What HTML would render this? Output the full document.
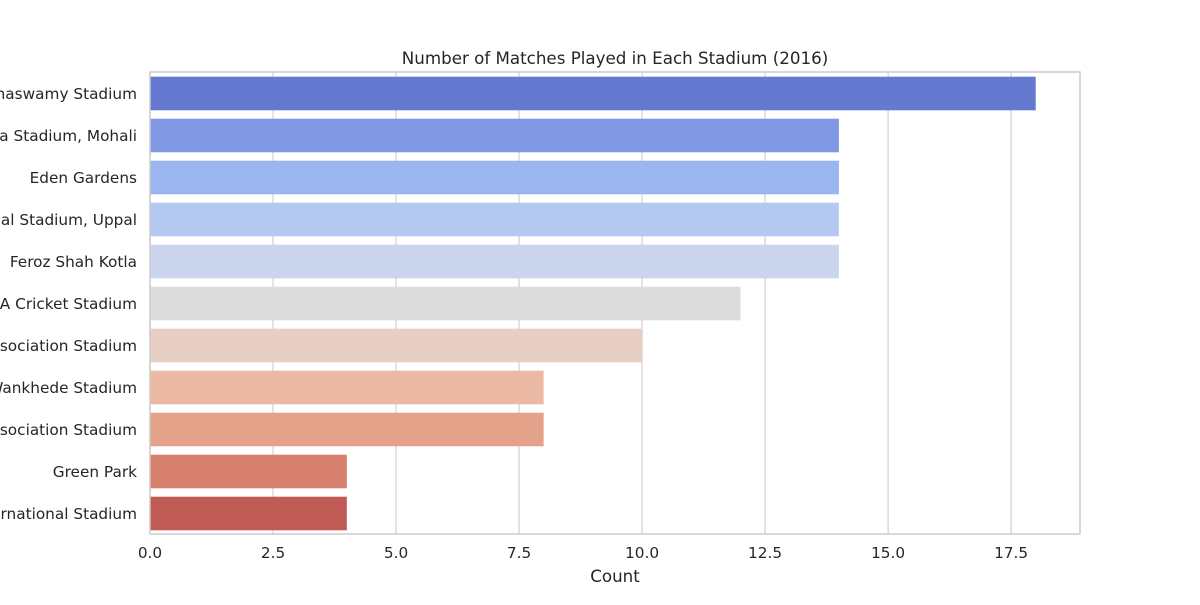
<!DOCTYPE html>
<html><head><meta charset="utf-8"><style>
body{margin:0;background:#fff;}
text{font-family:"DejaVu Sans","Liberation Sans",sans-serif;fill:#262626;}
</style></head><body>
<svg id="chart" width="1200" height="600" xmlns="http://www.w3.org/2000/svg">
<rect width="1200" height="600" fill="#fff"/>
<text x="615" y="64" font-size="16.7" text-anchor="middle">Number of Matches Played in Each Stadium (2016)</text>
<g id="grid"></g>
<g id="bars"></g>
<rect x="150" y="72" width="930" height="462" fill="none" stroke="#cccccc" stroke-width="1.5"/>
<g id="labels"></g>
<text x="615" y="582" font-size="16.7" text-anchor="middle">Count</text>
</svg>
<script>
const categories=["M Chinnaswamy Stadium","Punjab Cricket Association IS Bindra Stadium, Mohali","Eden Gardens","Rajiv Gandhi International Stadium, Uppal","Feroz Shah Kotla","Dr. Y.S. Rajasekhara Reddy ACA-VDCA Cricket Stadium","Maharashtra Cricket Association Stadium","Wankhede Stadium","Saurashtra Cricket Association Stadium","Green Park","Shaheed Veer Narayan Singh International Stadium"];
const counts=[18,14,14,14,14,12,10,8,8,4,4];
const colors=["#6679d0","#8199e5","#9bb5f0","#b4c9f2","#cbd6ee","#dcdcdc","#e8cfc3","#ecbaa4","#e5a28b","#d6806d","#c05a54"];
const ticks=[0,2.5,5,7.5,10,12.5,15,17.5];
const NS="http://www.w3.org/2000/svg";
const x0=150,x1=1080,y0=72,y1=534,xmax=18.9;
const xs=v=>x0+v/xmax*(x1-x0);
const band=(y1-y0)/categories.length;
const grid=document.getElementById('grid'),bars=document.getElementById('bars'),labels=document.getElementById('labels');
ticks.forEach(t=>{
 const l=document.createElementNS(NS,'line');
 
 
 l.setAttribute('x1',xs(t));l.setAttribute('x2',xs(t));l.setAttribute('y1',y0);l.setAttribute('y2',y1);
 l.setAttribute('stroke','#d0d0d0');l.setAttribute('stroke-width','1.2');grid.appendChild(l);
 const tx=document.createElementNS(NS,'text');
 
 
 tx.setAttribute('x',xs(t));tx.setAttribute('y',y1+24);tx.setAttribute('font-size','15.3');tx.setAttribute('text-anchor','middle');
 tx.textContent=t.toFixed(1);labels.appendChild(tx);
});
categories.forEach((c,i)=>{
 const r=document.createElementNS(NS,'rect');
 
 
 const h=band*0.8;
 r.setAttribute('x',x0);r.setAttribute('y',y0+i*band+(band-h)/2+0.5);r.setAttribute('width',xs(counts[i])-x0);r.setAttribute('height',h);
 r.setAttribute('fill',colors[i]);bars.appendChild(r);
 const tx=document.createElementNS(NS,'text');
 
 
 tx.setAttribute('x',137);tx.setAttribute('y',y0+i*band+band/2+6);tx.setAttribute('font-size','15.3');tx.setAttribute('text-anchor','end');
 tx.textContent=c;labels.appendChild(tx);
});
</script>
</body></html>
